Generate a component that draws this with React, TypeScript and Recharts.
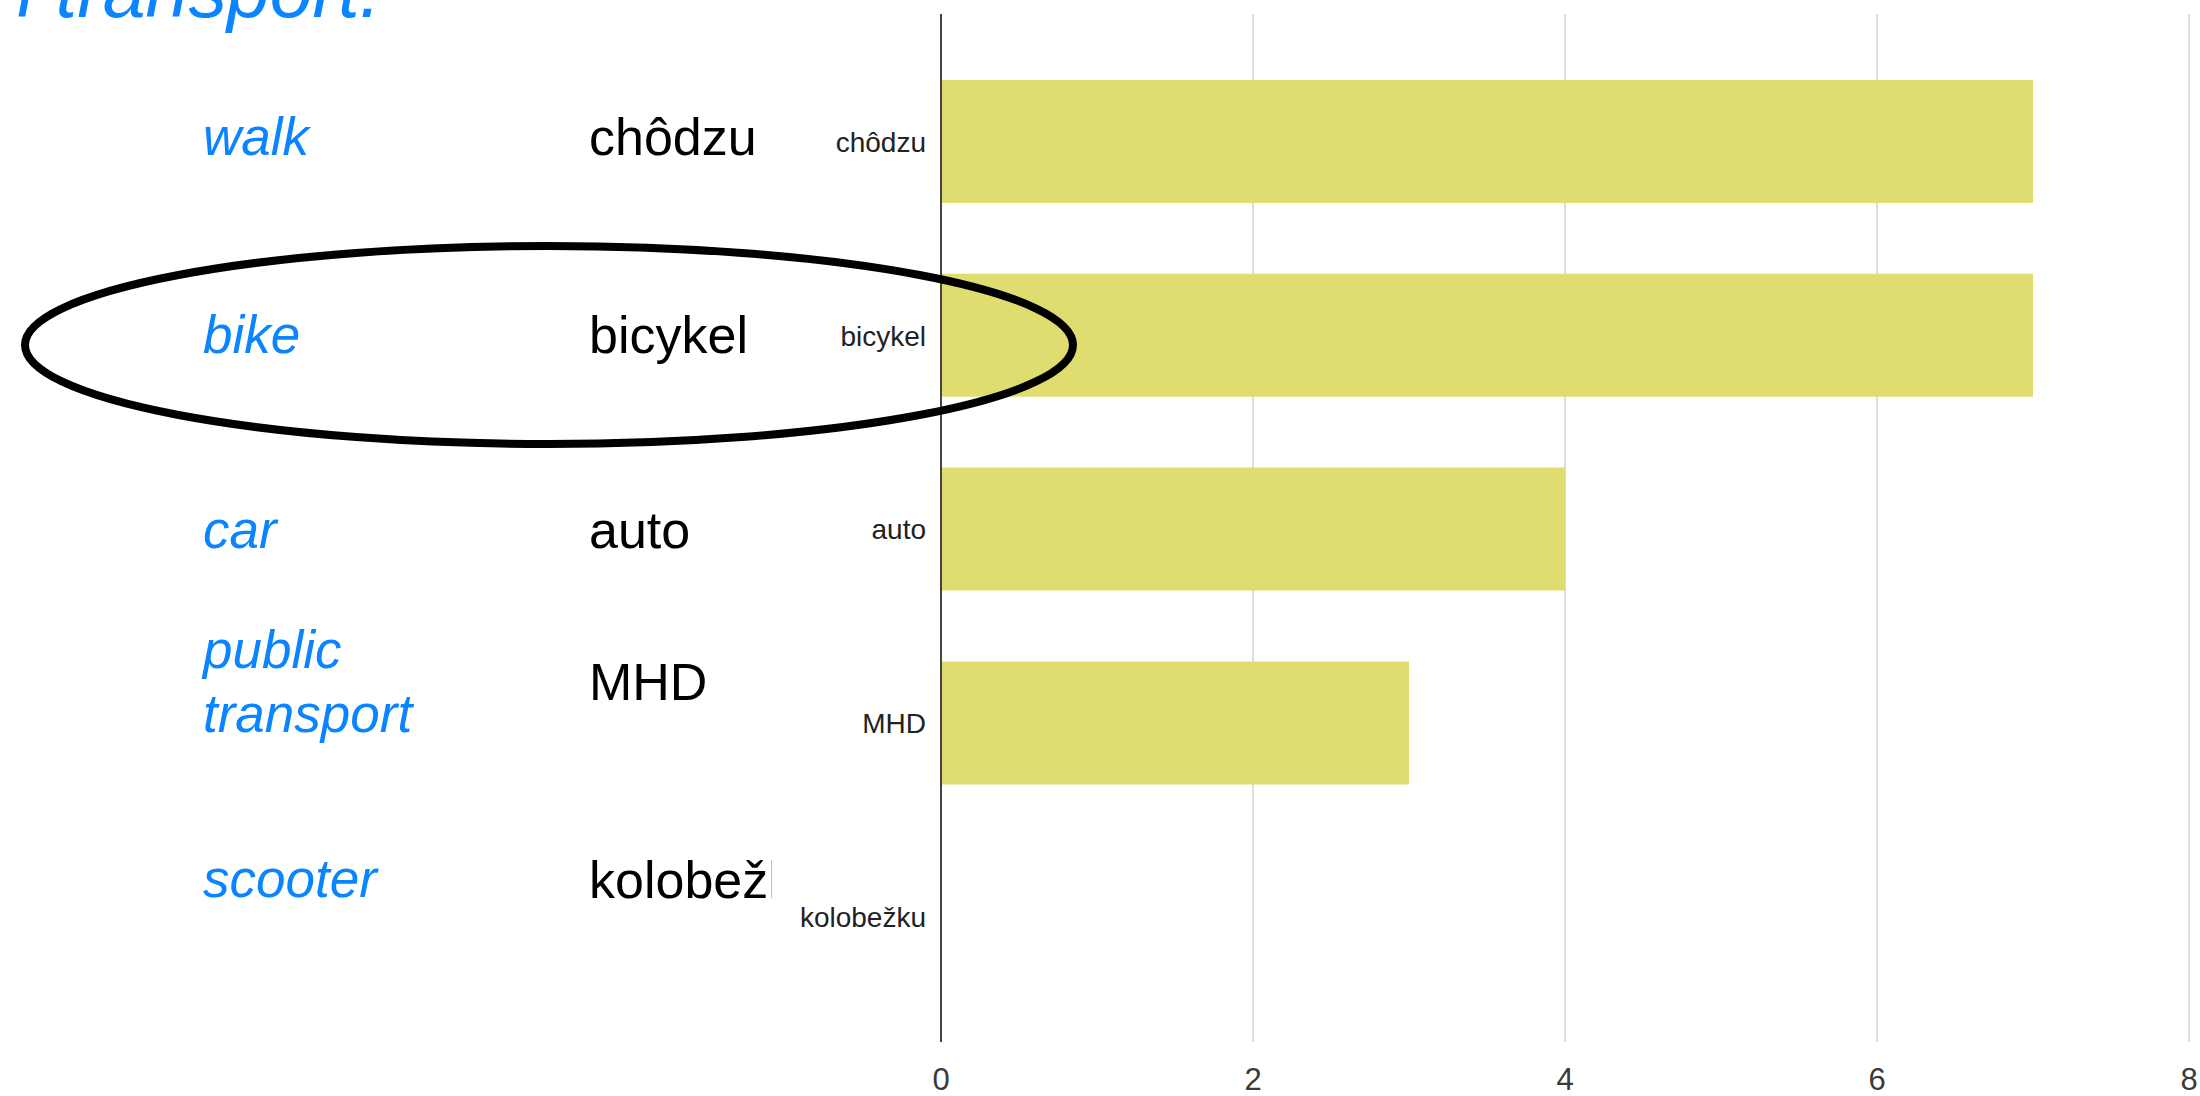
import { Bar, BarChart, CartesianGrid, XAxis, YAxis } from 'recharts'

// chart data
const categories = ['chôdzu', 'bicykel', 'auto', 'MHD', 'kolobežku']
const counts = [7, 7, 4, 3, 0]
const xTicks = [0, 2, 4, 6, 8]

// side annotations (English gloss + Slovak word) per row
const englishLabels = [['walk'], ['bike'], ['car'], ['public', 'transport'], ['scooter']]
const slovakLabels = ['chôdzu', 'bicykel', 'auto', 'MHD', 'kolobežku']
const englishBaselines = [155, 353, 548, 668, 897]
const slovakBaselines = [155, 353, 548, 700, 898]

const BLUE = '#0a84ff'
const FONT = '"Liberation Sans", Arial, Helvetica, sans-serif'

const data = categories.map((name, i) => ({ name, value: counts[i] }))

function Annotations() {
  return (
    <svg
      width={2200}
      height={1096}
      style={{ position: 'absolute', left: 0, top: 0, pointerEvents: 'none' }}
    >
      <defs>
        <clipPath id="slovak-clip">
          <rect x={560} y={0} width={212} height={1096} />
        </clipPath>
      </defs>
      <text x={381} y={17} textAnchor="end" fill={BLUE} fontFamily={FONT} fontStyle="italic" fontSize={77}>
        l transport.
      </text>
      {englishLabels.map((lines, i) => (
        <text key={i} fill={BLUE} fontFamily={FONT} fontStyle="italic" fontSize={53}>
          {lines.map((line, j) => (
            <tspan key={j} x={203} y={englishBaselines[i] + j * 64}>
              {line}
            </tspan>
          ))}
        </text>
      ))}
      <g clipPath="url(#slovak-clip)">
        {slovakLabels.map((word, i) => (
          <text key={i} x={589} y={slovakBaselines[i]} fill="#000" fontFamily={FONT} fontSize={52}>
            {word}
          </text>
        ))}
      </g>
      {/* hand-drawn highlight around the bike row */}
      <ellipse cx={549} cy={345} rx={524} ry={99} fill="none" stroke="#000" strokeWidth={8} />
    </svg>
  )
}

export default function App() {
  return (
    <div
      style={{
        position: 'absolute',
        left: 0,
        top: 0,
        width: 2200,
        height: 1096,
        overflow: 'hidden',
        background: '#fff',
      }}
    >
      <BarChart
        width={2200}
        height={1096}
        data={data}
        layout="vertical"
        margin={{ top: 14, right: 11, bottom: 0, left: 0 }}
      >
        <CartesianGrid horizontal={false} stroke="#dcdcdc" strokeWidth={2} />
        <XAxis
          type="number"
          domain={[0, 8]}
          ticks={xTicks}
          axisLine={false}
          tickLine={false}
          tickSize={0}
          tickMargin={26}
          height={54}
          interval={0}
          tick={{ fill: '#3a3a3a', fontSize: 31, fontFamily: FONT }}
        />
        <YAxis
          type="category"
          dataKey="name"
          width={941}
          padding={{ top: 31, bottom: 28 }}
          axisLine={{ stroke: '#444', strokeWidth: 2 }}
          tickLine={false}
          tickSize={6}
          tickMargin={9}
          interval={0}
          tick={{ fill: '#222', fontSize: 28, fontFamily: FONT }}
        />
        <Bar dataKey="value" fill="#dfdd6f" barSize={123} isAnimationActive={false} />
      </BarChart>
      <Annotations />
    </div>
  )
}
